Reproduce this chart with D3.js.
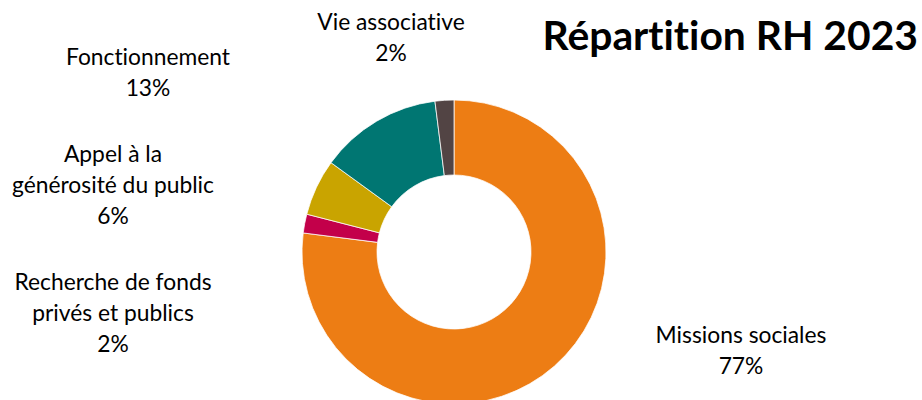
<!DOCTYPE html>
<html><head><meta charset="utf-8">
<script src="https://cdn.jsdelivr.net/npm/d3@7"></script>
<style>body{margin:0;background:#fff}svg{display:block}text{font-variant-ligatures:none;font-feature-settings:"liga" 0}</style>
</head><body>
<svg id="c" width="922" height="400"></svg>
<script>
const categories = ["Missions sociales","Recherche de fonds privés et publics","Appel à la générosité du public","Fonctionnement","Vie associative"];
const values = [77, 2, 6, 13, 2];
const colors = ["#ED7D14","#C3004A","#C9A400","#007672","#524444"];
const labelLines = [["Missions sociales"],["Recherche de fonds","privés et publics"],["Appel à la","générosité du public"],["Fonctionnement"],["Vie associative"]];
const labelPos = [[741,343],[113,290],[113,162],[148,65],[391,30]];
const title = "Répartition RH 2023";

const svg = d3.select("#c");
const cx = 454, cy = 252, R = 152, r = 77;
const pie = d3.pie().sort(null).value(d=>d)(values);
const arc = d3.arc().innerRadius(r).outerRadius(R);
const g = svg.append("g").attr("transform",`translate(${cx},${cy})`);
g.selectAll("path").data(pie).join("path")
  .attr("d",arc).attr("fill",(d,i)=>colors[i])
  .attr("stroke","#fff").attr("stroke-width",0.75);

const font = "Lato, 'Open Sans', sans-serif";
const lab = svg.append("g").attr("font-family",font).attr("font-size",22.8).attr("fill","#000").attr("text-anchor","middle");
const total = d3.sum(values);
labelLines.forEach((lines,i)=>{
  const t = lab.append("text").attr("x",labelPos[i][0]).attr("y",labelPos[i][1]);
  const all = lines.concat([Math.round(values[i]/total*100)+"%"]);
  all.forEach((l,k)=>t.append("tspan").attr("x",labelPos[i][0]).attr("dy",k?31:0).text(l));
});
svg.append("text").attr("x",918).attr("y",50).attr("text-anchor","end")
  .attr("font-family",font).attr("font-weight","bold").attr("font-size",40.8).text(title);
</script>
</body></html>
